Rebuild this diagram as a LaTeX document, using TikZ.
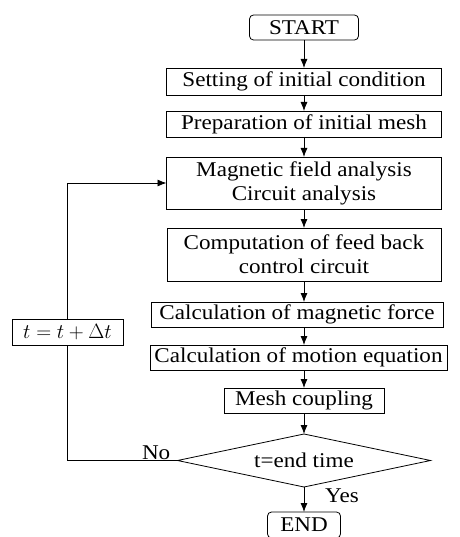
\documentclass[tikz,border=0pt]{standalone}
\usepackage{fontspec}
\setmainfont[FakeStretch=1.1]{Liberation Serif}
\usetikzlibrary{arrows.meta}
\usetikzlibrary{shapes}
\usetikzlibrary{positioning}
\usetikzlibrary{calc}

\begin{document}
\begin{tikzpicture}[>={Latex[length=9pt,width=7pt]}, x=1pt, y=1pt, node distance=16pt]
\tikzstyle{txt}=[font=\fontsize{21}{24}\selectfont]
\tikzstyle{st}=[rectangle, draw=black, line width=0.8pt, inner sep=0pt, outer sep=0pt, align=center, txt]
\tikzstyle{term}=[st, rounded corners=4pt]
\tikzstyle{dec}=[diamond, aspect=4.77, draw=black, line width=0.8pt, inner sep=0pt, outer sep=0pt, txt]
\tikzstyle{edge}=[->, line width=0.8pt]
\useasboundingbox (0,0) rectangle (459,-537);
\node[term, minimum width=109pt, minimum height=25pt] (start) at (304,-27.5) {START};
\node[st, below=28pt of start, minimum width=275pt, minimum height=27pt] (init) {Setting of initial condition};
\node[st, below=16pt of init, minimum width=275pt, minimum height=26pt] (mesh0) {Preparation of initial mesh};
\node[st, below=20pt of mesh0, minimum width=275pt, minimum height=52pt] (field) {Magnetic field analysis\\Circuit analysis};
\node[st, below=19pt of field, minimum width=274pt, minimum height=53pt] (ctrl) {Computation of feed back\\control circuit};
\node[st, below=21pt of ctrl, xshift=-7pt, minimum width=292pt, minimum height=25pt] (force) {Calculation of magnetic force};
\node[st, below=18pt of force, xshift=1.5pt, minimum width=297pt, minimum height=25pt] (motion) {Calculation of motion equation};
\node[st, below=18pt of motion, xshift=5.5pt, minimum width=160pt, minimum height=25pt] (couple) {Mesh coupling};
\node[dec, below=21pt of couple, minimum width=253pt, minimum height=53pt] (check) {t=end time};
\node[term, below=25pt of check, minimum width=73pt, minimum height=26pt] (stop) {END};
\node[st, minimum width=111pt, minimum height=26pt] (tstep) at (67.5,-332) {$t=t+\Delta t$};
% main flow
\draw[edge] (start) -- (init);
\draw[edge] (init) -- (mesh0);
\draw[edge] (mesh0) -- (field);
\draw[edge] (field) -- (ctrl);
\draw[edge] (ctrl) -- (ctrl |- force.north);
\draw[edge] (ctrl |- force.south) -- (ctrl |- motion.north);
\draw[edge] (ctrl |- motion.south) -- (couple);
\draw[edge] (couple) -- (check);
\draw[edge] (check) -- (stop);
% time step loop
\draw[line width=0.8pt] (check.west) -| (tstep);
\draw[edge] (tstep) |- (field);
\node[txt, inner sep=0pt, above left=1pt and 7pt of check.west] (no) {No};
\node[txt, inner sep=0pt, below right=2pt and 21pt of check.south] (yes) {Yes};
\end{tikzpicture}
\end{document}
